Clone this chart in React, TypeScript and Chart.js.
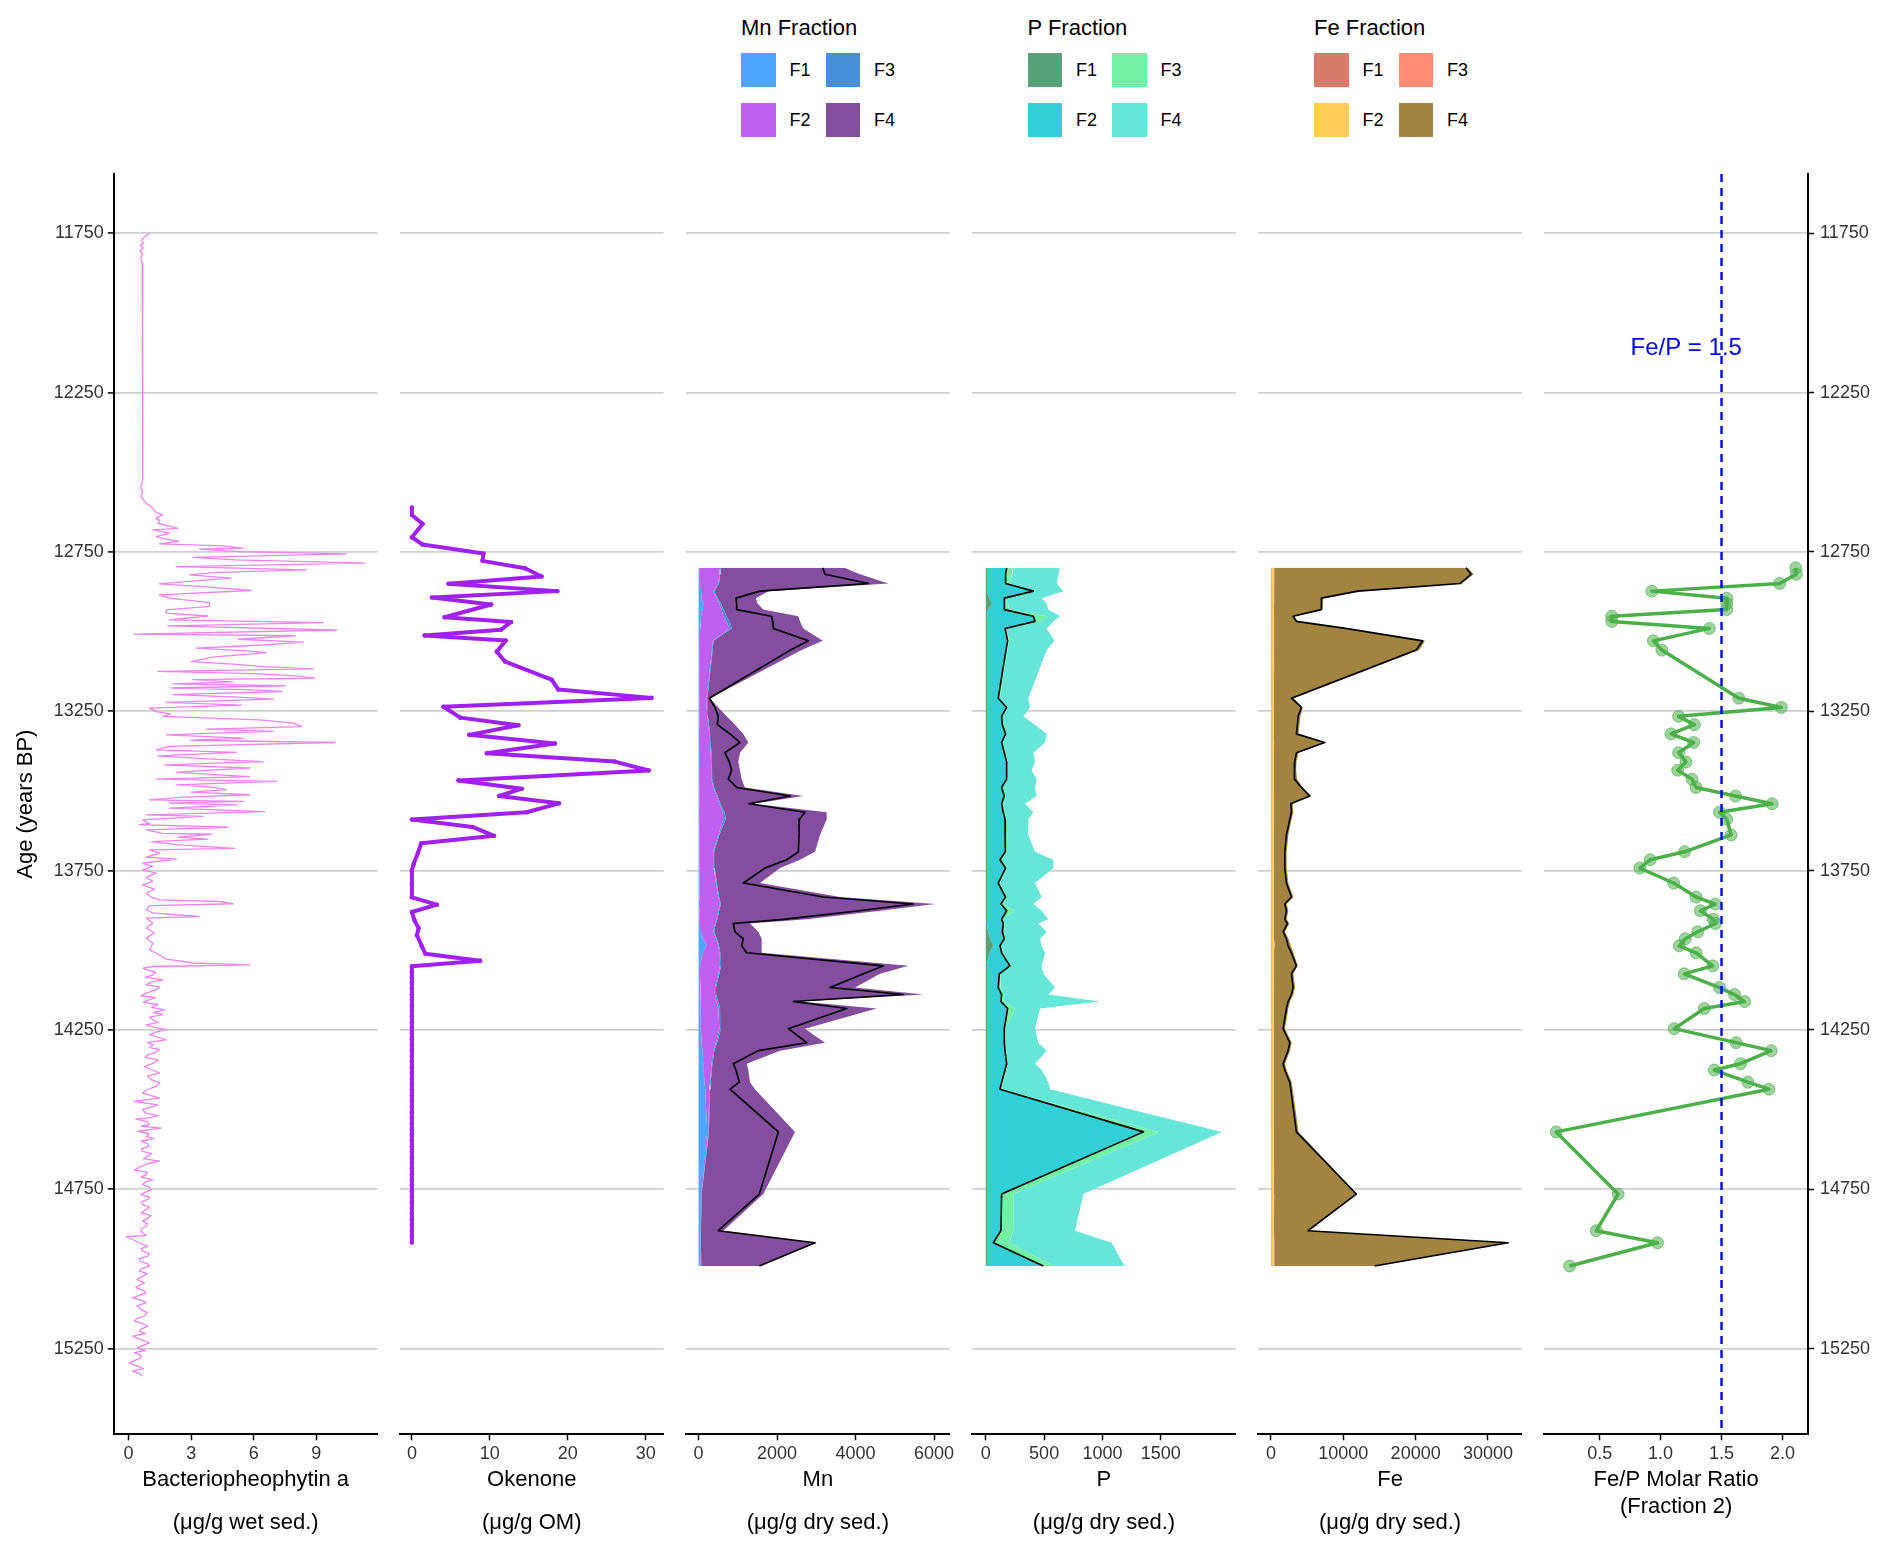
import { useEffect, useRef } from "react";
import { Chart, registerables } from "chart.js";

Chart.register(...registerables);

const FONT = "'Liberation Sans', Arial, Helvetica, sans-serif";
Chart.defaults.font.family = FONT;

// Bacteriopheophytin a profile (age BP, µg/g wet sed.)
const bactAge = [
  11750, 11757, 11764, 11772, 11780, 11788, 11796, 11805, 11815, 11828,
  11845, 12524, 12545, 12560, 12576, 12590, 12597, 12613, 12625, 12634,
  12644, 12652, 12660, 12668, 12676, 12681, 12691, 12702, 12710, 12717,
  12725, 12731, 12738, 12741, 12749, 12756, 12767, 12775, 12785, 12796,
  12806, 12814, 12822, 12832, 12841, 12850, 12859, 12871, 12885, 12895,
  12909, 12921, 12932, 12942, 12951, 12963, 12972, 12982, 12995, 13008,
  13013, 13024, 13033, 13042, 13052, 13060, 13066, 13080, 13094, 13102,
  13110, 13117, 13125, 13132, 13139, 13146, 13151, 13158, 13164, 13170,
  13177, 13183, 13188, 13198, 13205, 13212, 13222, 13231, 13240, 13251,
  13258, 13266, 13277, 13287, 13298, 13306, 13313, 13318, 13324, 13334,
  13341, 13348, 13360, 13371, 13379, 13385, 13390, 13400, 13408, 13418,
  13428, 13436, 13442, 13455, 13463, 13470, 13481, 13488, 13496, 13504,
  13512, 13520, 13528, 13533, 13538, 13544, 13554, 13565, 13575, 13580,
  13591, 13603, 13606, 13614, 13622, 13633, 13636, 13645, 13651, 13659,
  13669, 13680, 13685, 13695, 13708, 13714, 13727, 13737, 13748, 13758,
  13771, 13784, 13795, 13808, 13821, 13833, 13842, 13847, 13854, 13860,
  13873, 13883, 13894, 13899, 13915, 13931, 13946, 13962, 13978, 13999,
  14014, 14028, 14035, 14040, 14046,
  14051, 14056, 14061, 14069, 14077, 14085, 14093, 14100, 14108, 14116,
  14124, 14133, 14143, 14149, 14155, 14163, 14171, 14179, 14187, 14195,
  14202, 14210, 14218, 14226, 14234, 14241, 14249, 14257, 14265, 14273,
  14281, 14289, 14297, 14305, 14312, 14320, 14328, 14336, 14344, 14354,
  14365, 14375, 14385, 14395, 14406, 14416, 14427, 14437, 14448, 14456,
  14464, 14474, 14485, 14492, 14500, 14510, 14519, 14525, 14530, 14538,
  14547, 14552, 14558, 14568, 14576, 14584, 14591, 14599, 14607, 14615,
  14623, 14631, 14638, 14646, 14654, 14662, 14670, 14678, 14690, 14697,
  14704, 14712, 14720, 14728, 14735, 14743, 14751, 14759, 14767, 14775,
  14782, 14790, 14798, 14806, 14814, 14824, 14833, 14842, 14850, 14858,
  14866, 14874, 14882, 14895, 14899, 14910, 14918, 14929, 14936, 14944,
  14952, 14960, 14968, 14976, 14984, 14991, 15000, 15007, 15015, 15023,
  15033, 15044, 15052, 15059, 15067, 15075, 15083, 15091, 15098, 15106,
  15116, 15127, 15138, 15148, 15156, 15164, 15172, 15180, 15188, 15195,
  15203, 15211, 15222, 15232, 15240, 15248, 15256, 15263, 15271, 15279,
  15287, 15295, 15305, 15313, 15321, 15328, 15336,
];
const bactValue = [
  1.0, 0.85, 0.72, 0.62, 0.72, 0.56, 0.7, 0.55, 0.68, 0.58,
  0.66, 0.67, 0.59, 0.66, 0.59, 0.75, 0.84, 1.16, 1.3, 1.64,
  1.32, 1.5, 1.4, 1.9, 2.36, 1.16, 1.96, 1.32, 1.8, 2.41,
  1.48, 4.52, 5.48, 3.4, 5.4, 10.45, 3.08, 5.16, 11.33, 2.28,
  8.53, 4.2, 2.92, 4.92, 3.2, 1.48, 3.56, 5.88, 1.48, 1.96,
  3.88, 3.88, 1.8, 1.8, 3.8, 1.96, 9.33, 1.88, 9.97, 0.27,
  7.97, 5.24, 8.37, 6.44, 3.24, 5.5, 6.6, 4.0, 3.0, 5.0,
  6.52, 8.85, 1.4, 6.0, 8.05, 8.93, 3.08, 5.0, 2.12, 7.49,
  2.04, 6.0, 7.33, 2.12, 5.0, 6.93, 1.8, 5.4, 1.0, 1.32,
  2.0, 1.64, 6.28, 7.89, 8.29, 3.72, 6.93, 4.5, 1.8, 5.48,
  3.0, 9.89, 1.96, 1.32, 5.16, 3.0, 1.4, 4.0, 6.44, 1.72,
  5.8, 3.5, 2.28, 5.8, 1.32, 7.09, 2.28, 4.0, 4.68, 3.0,
  5.8, 2.5, 1.0, 5.48, 1.96, 5.2, 1.96, 6.52, 0.84, 3.56,
  0.67, 1.0, 0.51, 4.76, 0.84, 1.64, 3.96, 2.36, 3.8, 1.08,
  2.44, 5.08, 1.0, 1.48, 0.84, 2.28, 0.67, 1.16, 0.67, 1.32,
  0.84, 1.16, 0.67, 1.24, 0.84, 1.08, 1.48, 4.36, 5.0, 1.0,
  0.84, 1.16, 3.37, 0.84, 1.16, 0.84, 1.24, 0.84, 1.16, 1.0,
  1.48, 1.8, 2.6, 3.08, 5.8,
  1.16, 0.7, 0.84, 1.3, 1.16, 0.8, 1.64, 1.1, 0.84, 1.5,
  1.32, 0.9, 0.59, 1.3, 1.0, 0.7, 1.4, 1.1, 1.72, 1.2,
  1.64, 1.0, 1.16, 1.4, 0.84, 1.2, 1.8, 1.3, 1.0, 1.4,
  1.8, 0.9, 1.16, 1.0, 1.48, 1.3, 0.92, 0.8, 1.4, 1.2,
  0.75, 1.1, 1.48, 0.9, 1.08, 1.5, 1.32, 0.9, 0.67, 1.1,
  1.48, 0.27, 1.4, 1.1, 0.67, 0.8, 1.4, 1.0, 0.35, 0.9,
  1.0, 0.6, 1.56, 0.43, 1.0, 0.84, 1.2, 0.59, 0.9, 1.0,
  0.6, 0.67, 1.1, 0.92, 0.7, 1.48, 0.9, 0.59, 0.27, 0.9,
  0.84, 0.6, 1.16, 0.8, 0.67, 1.0, 1.08, 0.8, 0.59, 1.0,
  0.92, 0.6, 0.67, 1.0, 0.84, 0.6, 1.08, 0.9, 0.67, 0.9,
  0.84, 0.6, 0.59, 0.84, -0.13, 0.27, 0.51, 0.92, 0.6, 0.67,
  1.0, 0.92, 0.5, 0.59, 0.9, 1.0, 0.6, 0.51, 0.9, 0.67,
  0.4, 0.75, 0.5, 0.35, 0.7, 0.84, 0.5, 0.19, 0.6, 0.84,
  0.4, 0.59, 0.9, 0.75, 0.4, 0.27, 0.7, 0.92, 0.6, 0.51,
  0.8, 0.19, 0.6, 1.0, 0.7, 0.43, 0.8, 0.27, 0.6, 0.59,
  0.3, 0.03, 0.43, 0.7, 0.19, 0.5, 0.67,
];

// Okenone profile (age BP, µg/g OM)
const okenoneAge = [
  12611, 12634, 12662, 12704, 12727, 12755, 12778, 12801, 12827, 12850,
  12873, 12893, 12915, 12955, 12970, 12994, 13012, 13028, 13063, 13094,
  13151, 13182, 13208, 13236, 13270, 13294, 13324, 13351, 13382, 13408,
  13436, 13467, 13493, 13516, 13539, 13567, 13590, 13613, 13641, 13664,
  13694, 13729, 13749, 13791, 13834, 13857, 13880, 13907, 13930, 13953,
  13988, 14011, 14033, 14050, 14067, 14085, 14102, 14120, 14138, 14155,
  14173, 14191, 14208, 14226, 14244, 14261, 14279, 14297, 14314, 14332,
  14350, 14367, 14385, 14403, 14420, 14438, 14456, 14473, 14491, 14509,
  14526, 14544, 14562, 14579, 14597, 14615, 14632, 14650, 14668, 14685,
  14703, 14721, 14738, 14756, 14774, 14791, 14809, 14827, 14844, 14862,
  14880, 14897, 14917,
];
const okenoneValue = [
  0, 0, 1.37, 0, 1.37, 9.18, 9.06, 14.52, 16.65, 4.7,
  18.66, 2.57, 10.17, 4.19, 12.73, 11.45, 1.63, 12.04, 10.89, 11.96,
  17.93, 18.79, 30.74, 4.06, 6.2, 13.67, 7.35, 18.36, 9.61, 26.04,
  30.4, 5.98, 14.1, 11.19, 18.87, 14.73, 0, 7.78, 10.55, 1.2,
  0.78, 0.23, 0, 0, 0, 3.21, 0, 0.35, 0.86, 0.65,
  1.29, 1.72, 8.76, 0, 0, 0, 0, 0, 0, 0,
  0, 0, 0, 0, 0, 0, 0, 0, 0, 0,
  0, 0, 0, 0, 0, 0, 0, 0, 0, 0,
  0, 0, 0, 0, 0, 0, 0, 0, 0, 0,
  0, 0, 0, 0, 0, 0, 0, 0, 0, 0,
  0, 0, 0,
];

// Geochemistry samples (age BP)
const sampleAge = [
  12800, 12820, 12849, 12873, 12895, 12912, 12931, 12952, 12968, 12990,
  13029, 13058, 13209, 13238, 13266, 13292, 13321, 13348, 13380, 13409,
  13435, 13463, 13489, 13516, 13540, 13567, 13589, 13638, 13691, 13716,
  13742, 13789, 13833, 13855, 13876, 13903, 13916, 13942, 13964, 13986,
  14008, 14049, 14074, 14117, 14139, 14161, 14183, 14246, 14290, 14315,
  14356, 14376, 14414, 14436, 14570, 14765, 14880, 14918, 14991,
];

// Mn fractions and total (µg/g dry sed.)
const mnF1 = [
  30, 35, 40, 60, 80, 120, 110, 60, 50, 40,
  35, 35, 30, 30, 30, 35, 40, 35, 30, 30,
  30, 35, 30, 30, 35, 40, 30, 30, 25, 20,
  20, 30, 35, 40, 25, 30, 40, 60, 120, 206,
  100, 40, 35, 40, 45, 50, 60, 60, 80, 100,
  120, 130, 150, 170, 220, 60, 40, 40, 50,
];
const mnF2 = [
  516, 494, 463, 316, 381, 409, 478, 571, 666, 744,
  324, 307, 176, 176, 193, 214, 234, 256, 278, 287,
  295, 298, 346, 431, 494, 574, 601, 473, 351, 356,
  373, 414, 468, 506, 478, 431, 378, 316, 324, 297,
  429, 506, 468, 378, 373, 411, 443, 469, 364, 276,
  213, 187, 141, 104, 29, 10, 10, 10, 10,
];
const mnF3 = [
  20, 20, 20, 25, 30, 40, 50, 80, 80, 60,
  20, 20, 15, 15, 15, 15, 20, 20, 20, 20,
  20, 20, 20, 25, 30, 50, 60, 25, 20, 20,
  20, 20, 20, 25, 20, 20, 20, 20, 20, 20,
  25, 25, 25, 25, 30, 35, 45, 40, 30, 25,
  20, 20, 20, 20, 15, 10, 10, 10, 10,
];
const mnF4 = [
  3150, 3567, 4315, 1377, 973, 937, 1013, 1832, 1790, 1827,
  2785, 2266, 69, 282, 478, 664, 847, 957, 728, 676,
  711, 745, 787, 2185, 837, 2602, 2575, 2568, 2572, 2190,
  1663, 1102, 3083, 5457, 4103, 2275, 873, 1127, 1144, 1085,
  1054, 4777, 4098, 3545, 5283, 2090, 3993, 2144, 2749, 1675,
  873, 931, 1000, 1144, 2194, 1571, 571, 2951, 1479,
];
const mnTotal = [
  3164, 3223, 4328, 1566, 954, 971, 971, 1863, 1888, 1906,
  2798, 2339, 274, 418, 503, 478, 801, 1056, 673, 784,
  843, 758, 971, 2331, 1285, 2713, 2569, 2560, 2543, 2246,
  1693, 1141, 3181, 5476, 4090, 2161, 886, 928, 1141, 1098,
  1226, 4711, 4201, 3351, 5221, 2416, 3776, 2288, 2756, 1523,
  886, 954, 1039, 801, 2033, 1549, 503, 2968, 1549,
];

// P fractions and total (µg/g dry sed.)
const pF1 = [
  10, 10, 10, 10, 30, 56, 20, 10, 10, 10,
  10, 10, 10, 10, 10, 10, 10, 10, 10, 10,
  10, 10, 10, 10, 10, 10, 10, 10, 10, 10,
  10, 10, 10, 10, 10, 10, 10, 20, 40, 64,
  30, 10, 10, 10, 10, 10, 10, 10, 10, 10,
  10, 10, 10, 10, 10, 10, 10, 10, 10,
];
const pF2 = [
  165, 155, 155, 390, 120, 94, 135, 395, 405, 150,
  170, 158, 95, 165, 122, 130, 155, 122, 145, 165,
  165, 165, 122, 145, 122, 135, 150, 155, 150, 108,
  155, 95, 155, 118, 165, 122, 135, 120, 115, 54,
  102, 190, 102, 95, 122, 118, 170, 145, 145, 150,
  165, 150, 122, 108, 1330, 122, 115, 52, 470,
];
const pF3 = [
  55, 60, 35, 20, 20, 40, 45, 125, 55, 20,
  20, 17, 15, 15, 18, 15, 15, 18, 15, 15,
  15, 15, 16, 20, 18, 20, 18, 20, 20, 17,
  20, 15, 20, 22, 70, 18, 17, 15, 15, 17,
  18, 15, 16, 20, 28, 22, 70, 15, 15, 15,
  15, 15, 18, 22, 140, 104, 111, 138, 100,
];
const pF4 = [
  406, 397, 408, 245, 309, 332, 336, 106, 110, 342,
  388, 337, 245, 189, 172, 267, 342, 358, 238, 232,
  203, 246, 274, 261, 186, 243, 187, 180, 242, 444,
  394, 302, 294, 258, 234, 386, 288, 367, 295, 344,
  358, 264, 365, 468, 376, 829, 215, 252, 280, 347,
  232, 304, 386, 411, 543, 600, 529, 879, 608,
];
const pTotal = [
  179, 170, 170, 408, 159, 159, 159, 408, 422, 165,
  187, 173, 107, 179, 136, 142, 170, 136, 159, 179,
  179, 179, 136, 159, 136, 150, 165, 170, 165, 122,
  170, 107, 170, 130, 179, 136, 150, 142, 159, 122,
  136, 207, 116, 107, 136, 130, 187, 159, 159, 165,
  179, 165, 136, 122, 1351, 136, 130, 65, 493,
];

// Fe fractions and total (µg/g dry sed.)
const feF1 = [
  60, 60, 60, 60, 50, 50, 50, 60, 60, 60,
  60, 60, 50, 50, 50, 50, 50, 60, 50, 50,
  50, 50, 50, 60, 50, 50, 50, 50, 50, 50,
  50, 50, 60, 50, 50, 50, 50, 50, 50, 60,
  50, 50, 50, 50, 50, 50, 50, 50, 50, 50,
  50, 50, 50, 50, 60, 60, 50, 60, 60,
];
const feF2 = [
  330, 340, 330, 320, 310, 310, 300, 300, 300, 310,
  320, 320, 300, 300, 300, 300, 300, 310, 300, 300,
  300, 300, 300, 310, 290, 290, 290, 280, 280, 280,
  280, 280, 290, 280, 280, 280, 280, 280, 290, 300,
  300, 300, 290, 290, 290, 290, 280, 280, 290, 290,
  280, 280, 290, 290, 300, 320, 300, 340, 330,
];
const feF3 = [
  60, 60, 60, 60, 60, 60, 60, 60, 60, 60,
  60, 60, 60, 60, 60, 60, 60, 60, 60, 60,
  60, 60, 60, 60, 60, 60, 60, 60, 60, 60,
  60, 60, 60, 60, 60, 60, 60, 60, 70, 150,
  60, 60, 60, 60, 60, 60, 60, 60, 60, 60,
  60, 60, 60, 60, 60, 60, 60, 60, 60,
];
const feF4 = [
  26740, 27568, 25914, 11847, 6791, 6791, 6745, 2837, 3297, 10192,
  20857, 20076, 2745, 3986, 3665, 3527, 3389, 7204, 3389, 3113,
  3067, 3205, 3986, 5136, 2607, 2699, 2469, 2010, 1780, 1780,
  1780, 2010, 2699, 1780, 2010, 1780, 2148, 1550, 2010, 2239,
  2699, 3297, 2699, 2929, 2699, 2239, 2010, 1550, 2469, 2239,
  1550, 1780, 2469, 2607, 3389, 11479, 4906, 32488, 13962,
];
const feTotal = [
  26962, 27651, 26180, 12021, 6965, 6965, 6965, 3057, 3517, 10320,
  20986, 20066, 2827, 4207, 3747, 3655, 3517, 7424, 3517, 3287,
  3195, 3287, 4207, 5356, 2735, 2827, 2598, 2138, 1908, 1908,
  1908, 2138, 2827, 1908, 2138, 1908, 2276, 1678, 2138, 2368,
  2827, 3517, 2827, 3057, 2827, 2368, 2138, 1678, 2598, 2368,
  1678, 1908, 2598, 2735, 3517, 11791, 5126, 32800, 14320,
];

// Fe/P molar ratio, fraction 2
const feP2Ratio = [
  2.109, 2.114, 1.977, 0.928, 1.543, 1.543, 1.543, 0.599, 0.599, 1.4,
  0.941, 1.01, 1.642, 1.991, 1.148, 1.277, 1.085, 1.271, 1.148, 1.208,
  1.14, 1.258, 1.291, 1.615, 1.916, 1.483, 1.543, 1.579, 1.197, 0.914,
  0.829, 1.107, 1.291, 1.45, 1.326, 1.433, 1.45, 1.305, 1.202, 1.153,
  1.291, 1.428, 1.194, 1.483, 1.607, 1.689, 1.359, 1.112, 1.62, 1.908,
  1.656, 1.441, 1.716, 1.889, 0.143, 0.651, 0.472, 0.974, 0.253,
];
const ratioThreshold = 1.5;

const ageTicks = [11750, 12250, 12750, 13250, 13750, 14250, 14750, 15250];
const bactTicks = [0, 3, 6, 9];
const okenoneTicks = [0, 10, 20, 30];
const mnTicks = [0, 2000, 4000, 6000];
const pTicks = [0, 500, 1000, 1500];
const feTicks = [0, 10000, 20000, 30000];
const ratioTicks = [0.5, 1.0, 1.5, 2.0];

const fractionLabels = ["F1", "F2", "F3", "F4"];
const mnColors = ["#4DA6FF", "#BF5FEF", "#4690D7", "#844E9F"];
const pColors = ["#58A279", "#33CFD6", "#72F0A5", "#66E6D9"];
const feColors = ["#D67B6A", "#FFCC55", "#FF8B74", "#A0843F"];

// layout (page pixels)
const PAGE_W = 1892;
const PAGE_H = 1554;
const CANVAS_TOP = 150;
const PANEL_TOP = 174;
const PANEL_BOTTOM = 1434.3;
const FIRST_LEFT = 113.8;
const PANEL_W = 263.7;
const PANEL_STEP = 286.1;
const AGE_MIN = 11564;
const AGE_MAX = 15519;

const pts = (xs: number[], ys: number[]) => xs.map((x, i) => ({ x, y: ys[i] }));

function stackedAreas(fracs: number[][], colors: string[]) {
  const cum = sampleAge.map(() => 0);
  return fracs.map((f, k) => {
    const data = f.map((v, i) => {
      cum[i] += v;
      return { x: cum[i], y: sampleAge[i] };
    });
    return {
      data,
      borderWidth: 0,
      pointRadius: 0,
      backgroundColor: colors[k],
      fill: k === 0 ? "origin" : "-1",
      order: 2,
    };
  });
}

function totalLine(values: number[]) {
  return {
    data: pts(values, sampleAge),
    borderColor: "#000000",
    borderWidth: 1.6,
    pointRadius: 0,
    fill: false,
    order: 0,
  };
}

type PanelSpec = {
  datasets: any[];
  xMin: number;
  xMax: number;
  xTicks: number[];
  tickFmt?: (v: number) => string;
  title: string[];
  titleLine: number;
  titleBottom: number;
  plugins?: any[];
};

const ratioLabel = {
  id: "ratioLabel",
  beforeDatasetsDraw(chart: any) {
    const { ctx, scales } = chart;
    ctx.save();
    ctx.font = `24px ${FONT}`;
    ctx.fillStyle = "#0000FF";
    ctx.textAlign = "center";
    ctx.textBaseline = "middle";
    ctx.fillText("Fe/P = 1.5", scales.x.getPixelForValue(1.21), scales.y.getPixelForValue(12112));
    ctx.restore();
  },
};

const panelSpecs: (() => PanelSpec)[] = [
  () => ({
    datasets: [
      { data: pts(bactValue, bactAge), borderColor: "#EE82EE", borderWidth: 1.3, pointRadius: 0, fill: false },
    ],
    xMin: -0.71,
    xMax: 11.93,
    xTicks: bactTicks,
    title: ["Bacteriopheophytin a", "", "(μg/g wet sed.)"],
    titleLine: 21.5,
    titleBottom: 20.25,
  }),
  () => ({
    datasets: [
      {
        data: pts(okenoneValue, okenoneAge),
        borderColor: "#A020F0",
        borderWidth: 4,
        pointRadius: 2.3,
        pointBorderWidth: 0,
        pointBackgroundColor: "#A020F0",
        fill: false,
      },
    ],
    xMin: -1.54,
    xMax: 32.3,
    xTicks: okenoneTicks,
    title: ["Okenone", "", "(μg/g OM)"],
    titleLine: 21.5,
    titleBottom: 20.25,
  }),
  () => ({
    datasets: [totalLine(mnTotal), ...stackedAreas([mnF1, mnF2, mnF3, mnF4], mnColors)],
    xMin: -320,
    xMax: 6400,
    xTicks: mnTicks,
    title: ["Mn", "", "(μg/g dry sed.)"],
    titleLine: 21.5,
    titleBottom: 20.25,
  }),
  () => ({
    datasets: [totalLine(pTotal), ...stackedAreas([pF1, pF2, pF3, pF4], pColors)],
    xMin: -117,
    xMax: 2142,
    xTicks: pTicks,
    title: ["P", "", "(μg/g dry sed.)"],
    titleLine: 21.5,
    titleBottom: 20.25,
  }),
  () => ({
    datasets: [totalLine(feTotal), ...stackedAreas([feF1, feF2, feF3, feF4], feColors)],
    xMin: -1766,
    xMax: 34690,
    xTicks: feTicks,
    title: ["Fe", "", "(μg/g dry sed.)"],
    titleLine: 21.5,
    titleBottom: 20.25,
  }),
  () => ({
    datasets: [
      {
        data: [
          { x: ratioThreshold, y: AGE_MIN },
          { x: ratioThreshold, y: AGE_MAX },
        ],
        borderColor: "#0000FF",
        borderWidth: 2.4,
        borderDash: [8, 6],
        pointRadius: 0,
        fill: false,
        order: 0,
      },
      {
        data: pts(feP2Ratio, sampleAge),
        borderColor: "#4DAF4A",
        borderWidth: 3.5,
        pointRadius: 6,
        pointBackgroundColor: "rgba(77,175,74,0.55)",
        pointBorderColor: "rgba(77,175,74,0.65)",
        pointBorderWidth: 1,
        fill: false,
        order: 1,
      },
    ],
    xMin: 0.045,
    xMax: 2.21,
    xTicks: ratioTicks,
    tickFmt: (v) => v.toFixed(1),
    title: ["Fe/P Molar Ratio", "(Fraction 2)"],
    titleLine: 27,
    titleBottom: 33.5,
    plugins: [ratioLabel],
  }),
];

const tickFont = { family: FONT, size: 18 };

function Panel({ k }: { k: number }) {
  const ref = useRef<HTMLCanvasElement | null>(null);
  const pl = FIRST_LEFT + k * PANEL_STEP;
  const pr = pl + PANEL_W;
  const first = k === 0;
  const last = k === panelSpecs.length - 1;
  const cl = first ? 0 : Math.floor(pl - 11);
  const cr = last ? PAGE_W : Math.ceil(pr + 11);

  useEffect(() => {
    if (!ref.current) return;
    const spec = panelSpecs[k]();
    const ageAxisCommon = {
      type: "linear" as const,
      reverse: true,
      min: AGE_MIN,
      max: AGE_MAX,
      afterBuildTicks: (s: any) => {
        s.ticks = ageTicks.map((value) => ({ value }));
      },
    };
    const scales: any = {
      x: {
        type: "linear",
        position: "bottom",
        min: spec.xMin,
        max: spec.xMax,
        afterBuildTicks: (s: any) => {
          s.ticks = spec.xTicks.map((value) => ({ value }));
        },
        afterFit: (s: any) => {
          s.height = PAGE_H - PANEL_BOTTOM;
          s.paddingLeft = 0;
          s.paddingRight = 0;
        },
        grid: { drawOnChartArea: false, drawTicks: true, tickLength: 6, tickColor: "#000000", tickWidth: 1.5 },
        border: { display: true, color: "#000000", width: 2 },
        ticks: {
          padding: 3,
          color: "#333333",
          font: tickFont,
          autoSkip: false,
          minRotation: 0,
          maxRotation: 0,
          callback: (v: any) => (spec.tickFmt ? spec.tickFmt(Number(v)) : String(v)),
        },
        title: {
          display: true,
          text: spec.title,
          color: "#000000",
          font: { family: FONT, size: 22, lineHeight: `${spec.titleLine}px` },
          padding: { top: 0, bottom: spec.titleBottom },
        },
      },
      y: {
        ...ageAxisCommon,
        position: "left",
        afterFit: (s: any) => {
          s.width = first ? pl : 0;
          s.paddingTop = 0;
          s.paddingBottom = 0;
        },
        grid: {
          color: "#CFCFCF",
          lineWidth: 1.8,
          drawTicks: first,
          tickLength: 6,
          tickColor: "#000000",
          tickWidth: 1.5,
        },
        border: { display: first, color: "#000000", width: 2 },
        ticks: { display: first, padding: 4, color: "#333333", font: tickFont, autoSkip: false, callback: (v: any) => String(v) },
        title: {
          display: first,
          text: "Age (years BP)",
          color: "#000000",
          font: { family: FONT, size: 22 },
          padding: { top: 13, bottom: 0 },
        },
      },
    };
    if (last) {
      scales.y2 = {
        ...ageAxisCommon,
        position: "right",
        afterFit: (s: any) => {
          s.width = cr - pr;
          s.paddingTop = 0;
          s.paddingBottom = 0;
        },
        grid: { drawOnChartArea: false, drawTicks: true, tickLength: 6, tickColor: "#000000", tickWidth: 1.5 },
        border: { display: true, color: "#000000", width: 2 },
        ticks: { padding: 6, color: "#333333", font: tickFont, autoSkip: false, callback: (v: any) => String(v) },
      };
    }
    const chart = new Chart(ref.current, {
      type: "line",
      data: {
        datasets: spec.datasets.map((d) => ({ ...d, xAxisID: "x", yAxisID: "y", borderJoinStyle: "round", tension: 0 })),
      },
      options: {
        animation: false,
        responsive: true,
        maintainAspectRatio: false,
        indexAxis: "y",
        events: [],
        layout: {
          padding: {
            left: first ? 0 : pl - cl,
            right: last ? 0 : cr - pr,
            top: PANEL_TOP - CANVAS_TOP,
            bottom: 0,
          },
        },
        plugins: { legend: { display: false }, tooltip: { enabled: false } },
        scales,
      },
      plugins: spec.plugins ?? [],
    } as any);
    return () => chart.destroy();
  }, []);

  return (
    <div style={{ position: "absolute", left: cl, top: CANVAS_TOP, width: cr - cl, height: PAGE_H - CANVAS_TOP }}>
      <canvas ref={ref} />
    </div>
  );
}

function FractionLegend({ left, title, colors }: { left: number; title: string; colors: string[] }) {
  const cells = fractionLabels.map((label, i) => ({ label, color: colors[i], col: i < 2 ? 0 : 1, row: i % 2 }));
  return (
    <div style={{ position: "absolute", left, top: 0, fontFamily: FONT, color: "#000" }}>
      <div style={{ position: "absolute", left: 0, top: 15, fontSize: 22, lineHeight: "26px", whiteSpace: "nowrap" }}>
        {title}
      </div>
      {cells.map((c) => (
        <div key={c.label}>
          <div
            style={{
              position: "absolute",
              left: c.col * 84.6,
              top: 52.7 + c.row * 50,
              width: 34.5,
              height: 34.6,
              background: c.color,
            }}
          />
          <div
            style={{
              position: "absolute",
              left: 48.4 + c.col * 84.6,
              top: 52.7 + c.row * 50,
              height: 34.6,
              lineHeight: "34.6px",
              fontSize: 18,
              whiteSpace: "nowrap",
            }}
          >
            {c.label}
          </div>
        </div>
      ))}
    </div>
  );
}

export default function App() {
  return (
    <div style={{ position: "absolute", left: 0, top: 0, width: PAGE_W, height: PAGE_H, background: "#ffffff", overflow: "hidden" }}>
      <FractionLegend left={741} title="Mn Fraction" colors={mnColors} />
      <FractionLegend left={1027.5} title="P Fraction" colors={pColors} />
      <FractionLegend left={1314} title="Fe Fraction" colors={feColors} />
      {panelSpecs.map((_, k) => (
        <Panel key={k} k={k} />
      ))}
    </div>
  );
}
